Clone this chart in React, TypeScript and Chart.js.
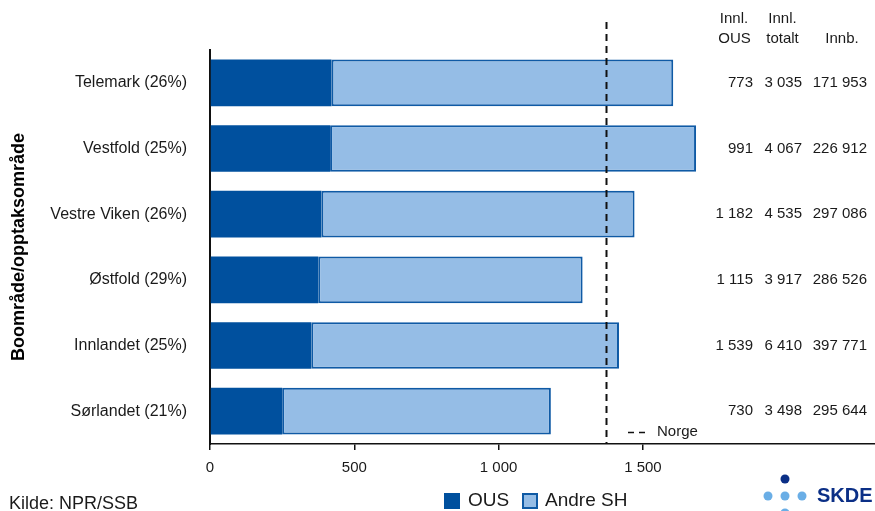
import React, { useEffect, useRef } from "react";
import { Chart, registerables } from "chart.js";

Chart.register(...registerables);

const CATEGORIES = [
  "Telemark (26%)",
  "Vestfold (25%)",
  "Vestre Viken (26%)",
  "Østfold (29%)",
  "Innlandet (25%)",
  "Sørlandet (21%)",
];
const OUS = [421, 416, 386, 375, 351, 250];
const ANDRE_SH = [1184, 1268, 1085, 916, 1066, 931];
const NORGE = 1373;
const INNL_OUS = ["773", "991", "1 182", "1 115", "1 539", "730"];
const INNL_TOTALT = ["3 035", "4 067", "4 535", "3 917", "6 410", "3 498"];
const INNB = ["171 953", "226 912", "297 086", "286 526", "397 771", "295 644"];
const X_TICKS = [0, 500, 1000, 1500];
const X_MAX = 2304;

const FONT = "'Liberation Sans', Arial, Helvetica, sans-serif";
const DARK = "#00509e";
const LIGHT = "#95bde6";
const LIGHT_BORDER = "#0f5aa5";

const fmt = (v: number) => {
  const s = Math.round(v).toString();
  return s.replace(/\B(?=(\d{3})+(?!\d))/g, " ");
};

const overlayPlugin = {
  id: "overlay",
  afterDatasetsDraw(chart: any) {
    const ctx = chart.ctx as CanvasRenderingContext2D;
    const xs = chart.scales.x;
    const area = chart.chartArea;
    ctx.save();
    const nx = Math.round(xs.getPixelForValue(NORGE)) + 0.5;
    ctx.strokeStyle = "#111";
    ctx.lineWidth = 2;
    ctx.setLineDash([7, 5]);
    ctx.beginPath();
    ctx.moveTo(nx, 22);
    ctx.lineTo(nx, area.bottom);
    ctx.stroke();
    ctx.setLineDash([]);
    ctx.restore();
  },
  afterDraw(chart: any) {
    const ctx = chart.ctx as CanvasRenderingContext2D;
    const ys = chart.scales.y;
    ctx.save();
    ctx.fillStyle = "#1a1a1a";
    ctx.font = `15px ${FONT}`;
    ctx.textBaseline = "middle";
    ctx.textAlign = "center";
    ctx.fillText("Innl.", 734, 19);
    ctx.fillText("OUS", 734.5, 39);
    ctx.fillText("Innl.", 782.5, 19);
    ctx.fillText("totalt", 782.5, 39);
    ctx.fillText("Innb.", 842, 39);
    ctx.textAlign = "right";
    CATEGORIES.forEach((_, i) => {
      const y = ys.getPixelForValue(i);
      ctx.fillText(INNL_OUS[i], 753, y);
      ctx.fillText(INNL_TOTALT[i], 802, y);
      ctx.fillText(INNB[i], 867, y);
    });
    ctx.strokeStyle = "#111";
    ctx.lineWidth = 1.5;
    ctx.beginPath();
    ctx.moveTo(628, 432.5);
    ctx.lineTo(634, 432.5);
    ctx.moveTo(639, 432.5);
    ctx.lineTo(645, 432.5);
    ctx.stroke();
    ctx.textAlign = "left";
    ctx.fillText("Norge", 657, 432);
    ctx.fillStyle = DARK;
    ctx.fillRect(444, 493, 16, 16);
    ctx.fillStyle = LIGHT;
    ctx.fillRect(522, 493, 16, 16);
    ctx.strokeStyle = LIGHT_BORDER;
    ctx.lineWidth = 2;
    ctx.strokeRect(523, 494, 14, 14);
    ctx.fillStyle = "#1a1a1a";
    ctx.font = `19px ${FONT}`;
    ctx.fillText("OUS", 468, 501);
    ctx.fillText("Andre SH", 545, 501);
    ctx.font = `18px ${FONT}`;
    ctx.fillText("Kilde: NPR/SSB", 9, 504);
    ctx.fillStyle = "#0b2f86";
    ctx.beginPath();
    ctx.arc(785, 479, 4.5, 0, Math.PI * 2);
    ctx.fill();
    ctx.fillStyle = "#6aaee6";
    [768, 785, 802].forEach((x) => {
      ctx.beginPath();
      ctx.arc(x, 496, 4.5, 0, Math.PI * 2);
      ctx.fill();
    });
    ctx.beginPath();
    ctx.arc(785, 513, 4.5, 0, Math.PI * 2);
    ctx.fill();
    ctx.fillStyle = "#0b2f86";
    ctx.font = `bold 20px ${FONT}`;
    ctx.fillText("SKDE", 817, 496);
    ctx.restore();
  },
};

export default function App() {
  const ref = useRef<HTMLCanvasElement | null>(null);
  useEffect(() => {
    if (!ref.current) return;
    const chart = new Chart(ref.current, {
      type: "bar",
      data: {
        labels: CATEGORIES,
        datasets: [
          {
            label: "OUS",
            data: OUS,
            backgroundColor: DARK,
            borderColor: DARK,
            borderWidth: 0,
            barPercentage: 0.71,
            categoryPercentage: 1,
          },
          {
            label: "Andre SH",
            data: ANDRE_SH,
            backgroundColor: LIGHT,
            borderColor: LIGHT_BORDER,
            borderWidth: 2,
            borderSkipped: false,
            barPercentage: 0.71,
            categoryPercentage: 1,
          },
        ],
      },
      options: {
        indexAxis: "y",
        responsive: false,
        animation: false,
        layout: { padding: { top: 50, right: 0, left: 0, bottom: 0 } },
        plugins: {
          legend: { display: false },
          tooltip: { enabled: false },
        },
        scales: {
          x: {
            stacked: true,
            min: 0,
            max: X_MAX,
            afterBuildTicks: (scale: any) => {
              scale.ticks = X_TICKS.map((v) => ({ value: v }));
            },
            afterFit: (scale: any) => {
              scale.height = 67;
            },
            grid: {
              display: true,
              drawOnChartArea: false,
              drawTicks: true,
              tickLength: 6,
              color: "#111",
              lineWidth: 1.5,
            },
            border: { display: true, color: "#111", width: 1.5 },
            ticks: {
              color: "#1a1a1a",
              font: { family: FONT, size: 15 },
              padding: 9,
              maxRotation: 0,
              callback: (v: any) => fmt(Number(v)),
            },
          },
          y: {
            stacked: true,
            afterFit: (scale: any) => {
              scale.width = 210;
            },
            grid: { display: false, drawTicks: false },
            border: { display: true, color: "#111", width: 2 },
            ticks: {
              color: "#1a1a1a",
              font: { family: FONT, size: 16 },
              padding: 23,
            },
            title: {
              display: true,
              text: "Boområde/opptaksområde",
              color: "#000",
              font: { family: FONT, size: 18, weight: "bold" },
              padding: { top: 8, bottom: 0 },
            },
          },
        },
      },
      plugins: [overlayPlugin],
    });
    return () => chart.destroy();
  }, []);
  return (
    <div style={{ position: "fixed", left: 0, top: 0, width: 875, height: 511, background: "#fff" }}>
      <canvas ref={ref} width={875} height={511} style={{ display: "block" }} />
    </div>
  );
}
